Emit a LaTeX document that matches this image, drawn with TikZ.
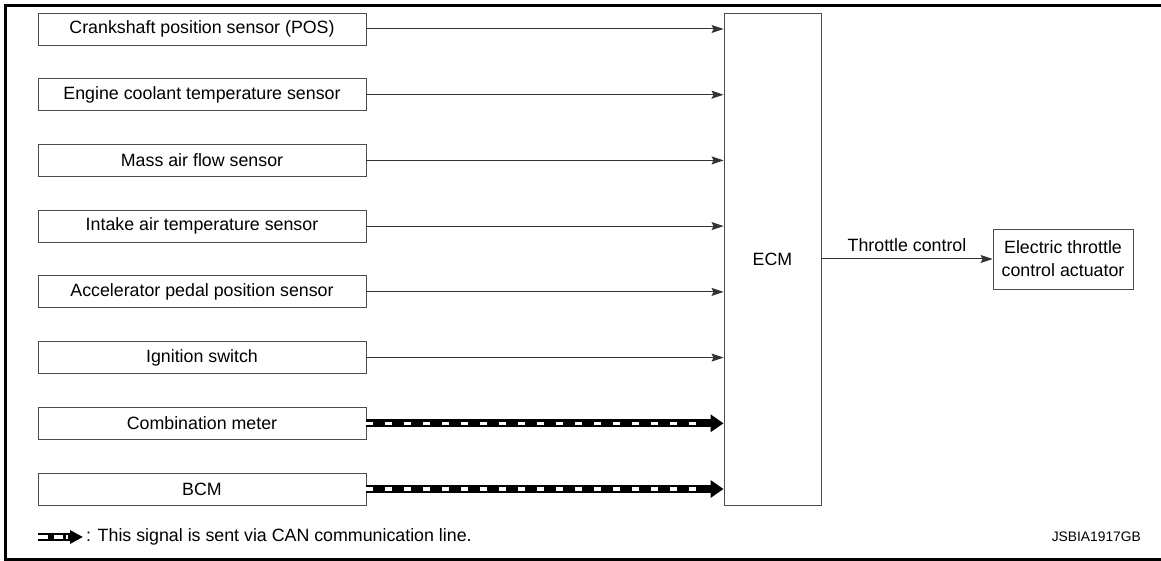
\documentclass[tikz,border=0pt]{standalone}
\usepackage{fontspec}
\setmainfont{Liberation Sans}
\usetikzlibrary{arrows.meta,calc}
\tikzset{
  x=1pt, y=-1pt,
  txt/.style={font=\fontsize{17.8}{23}\selectfont, inner sep=0pt},
  inbox/.style={txt, draw=black!70, line width=0.9pt, minimum width=328pt, minimum height=32pt},
  ecmbox/.style={txt, draw=black!70, line width=0.9pt, minimum width=97pt, minimum height=492pt},
  actbox/.style={txt, draw=black!70, line width=0.9pt, minimum width=140pt, minimum height=60pt, align=center},
  sig/.style={draw=black!80, line width=1pt, -{Stealth[length=12pt,width=8pt,inset=2pt]}},
  can/.style={line width=8pt, -{Triangle[length=13pt,width=17pt]},
    postaction={draw=white, line width=3.5pt, dash pattern=on 7pt off 12pt, shorten >=20pt, -}},
  frame/.style={line width=3pt}
}
\begin{document}
\begin{tikzpicture}
\useasboundingbox (0,0) rectangle (1161,561);
\draw[frame] (1161,5.5) -- (5.5,5.5) -- (5.5,559) -- (1161,559);

\node[inbox] (s1) at (202,29) {Crankshaft position sensor (POS)};
\node[inbox] (s2) at (202,94.7) {Engine coolant temperature sensor};
\node[inbox] (s3) at (202,160.4) {Mass air flow sensor};
\node[inbox] (s4) at (202,226.1) {Intake air temperature sensor};
\node[inbox] (s5) at (202,291.9) {Accelerator pedal position sensor};
\node[inbox] (s6) at (202,357.6) {Ignition switch};
\node[inbox] (s7) at (202,423.3) {Combination meter};
\node[inbox] (s8) at (202,489) {BCM};

\node[ecmbox] (ecm) at (772.5,259) {ECM};
\node[actbox] (act) at (1063,259) {Electric throttle\\control actuator};

\foreach \i in {1,...,6} {
  \draw[sig] (s\i.east) -- (s\i.east -| ecm.west);
}
\draw[can] (s7.east) -- (s7.east -| ecm.west);
\draw[can] (s8.east) -- (s8.east -| ecm.west);

\draw[sig] (ecm.east |- act.west) -- node[txt, above=7pt] (tc) {Throttle control} (act.west);

\coordinate (la) at (38,537);
\coordinate (lb) at (83,537);
\draw[can, -{Triangle[length=13pt,width=13pt]}, postaction={draw=white, line width=3.5pt, dash pattern=on 6pt off 6pt, dash phase=-4pt, shorten >=15pt, -}] (la) -- (lb);
\node[txt, anchor=west] (leg) at (86,537) {: This signal is sent via CAN communication line.};
\node[font=\fontsize{13.8}{16}\selectfont, inner sep=0pt, anchor=east] (code) at (1141,537) {JSBIA1917GB};
\end{tikzpicture}
\end{document}
